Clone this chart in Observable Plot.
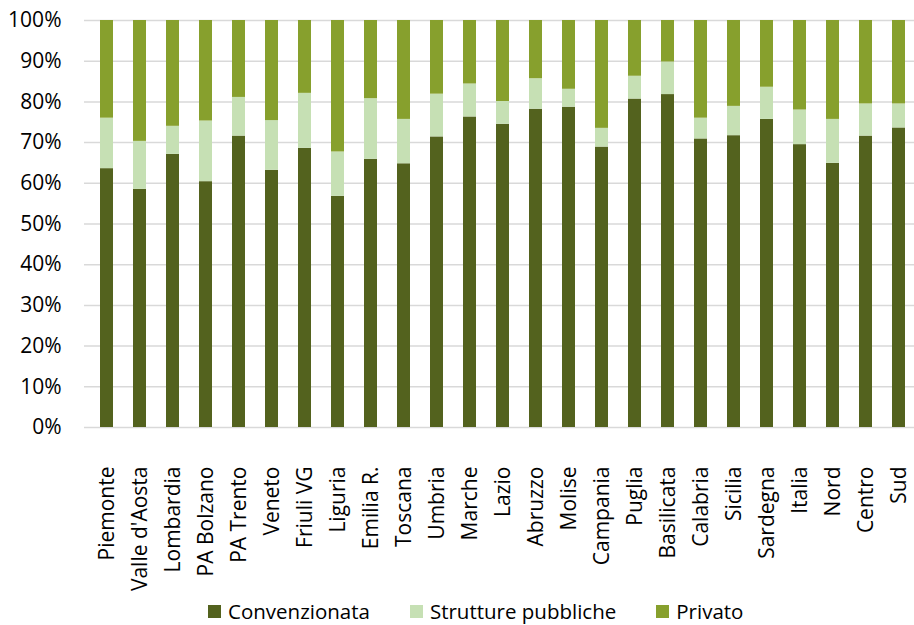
<!DOCTYPE html>
<html><head><meta charset="utf-8">
<script src="https://cdn.jsdelivr.net/npm/d3@7"></script>
<script src="https://cdn.jsdelivr.net/npm/@observablehq/plot@0.6"></script>
<style>
body{margin:0;background:#fff;font-family:"Open Sans",sans-serif;width:914px;height:625px;overflow:hidden;position:relative;}
#legend{position:absolute;left:208px;top:597px;height:28px;display:flex;gap:40px;font-size:20.5px;color:#000;align-items:center;}
#legend .item{display:flex;align-items:center;gap:7px;}
#legend .sw{width:13px;height:13px;display:inline-block;}
</style></head><body><div id="chart"></div><div id="legend"></div>
<script>
const categories = ["Piemonte","Valle d'Aosta","Lombardia","PA Bolzano","PA Trento","Veneto","Friuli VG","Liguria","Emilia R.","Toscana","Umbria","Marche","Lazio","Abruzzo","Molise","Campania","Puglia","Basilicata","Calabria","Sicilia","Sardegna","Italia","Nord","Centro","Sud"];
const seriesNames = ["Convenzionata","Strutture pubbliche","Privato"];
const colors = ["#53621e","#c6e0b4","#87a02d"];
const convenzionata = [63.6,58.5,67.1,60.4,71.6,63.2,68.6,56.8,65.9,64.8,71.4,76.3,74.5,78.2,78.7,68.9,80.7,81.8,70.9,71.7,75.7,69.5,64.9,71.6,73.6];
const pubbliche = [12.4,11.8,6.9,14.9,9.5,12.2,13.5,10.9,14.9,10.9,10.5,8.1,5.6,7.5,4.4,4.6,5.6,8.0,5.1,7.2,7.9,8.5,10.8,7.9,5.9];
const privato = [24.0,29.7,26.0,24.7,18.9,24.6,17.9,32.3,19.2,24.3,18.1,15.6,19.9,14.3,16.9,26.5,13.7,10.2,24.0,21.1,16.4,22.0,24.3,20.5,20.5];
const yTicks = [0,10,20,30,40,50,60,70,80,90,100];

const seriesValues = [convenzionata, pubbliche, privato];
const data = [];
seriesNames.forEach((s, si) => categories.forEach((c, i) => data.push({cat: c, series: s, value: seriesValues[si][i]})));

const chart = Plot.plot({
  width: 914, height: 596,
  marginTop: 20, marginBottom: 169, marginLeft: 84, marginRight: 0,
  style: {fontFamily: "Open Sans", fontSize: "21px", color: "#000", background: "#fff", overflow: "visible"},
  x: {domain: categories, range: [84, 922], paddingInner: 0.6, paddingOuter: 0.3, label: null},
  y: {domain: [0, 100], label: null},
  color: {domain: seriesNames, range: colors},
  marks: [
    Plot.gridY(yTicks, {stroke: "#d9d9d9", strokeOpacity: 1, strokeWidth: 1.5}),
    Plot.barY(data, {x: "cat", y: "value", fill: "series", order: seriesNames}),
    Plot.axisY(yTicks, {tickSize: 0, tickPadding: 23, tickFormat: d => d + "%", fontSize: 21}),
    Plot.axisX({tickSize: 0, tickRotate: -90, tickPadding: 39, fontSize: 21})
  ]
});
document.getElementById("chart").appendChild(chart);

const legend = document.getElementById("legend");
seriesNames.forEach((s, i) => {
  const item = document.createElement("div");
  item.className = "item";
  const sw = document.createElement("span");
  sw.className = "sw";
  sw.style.background = colors[i];
  const t = document.createElement("span");
  t.textContent = s;
  item.appendChild(sw); item.appendChild(t);
  legend.appendChild(item);
});
</script></body></html>
